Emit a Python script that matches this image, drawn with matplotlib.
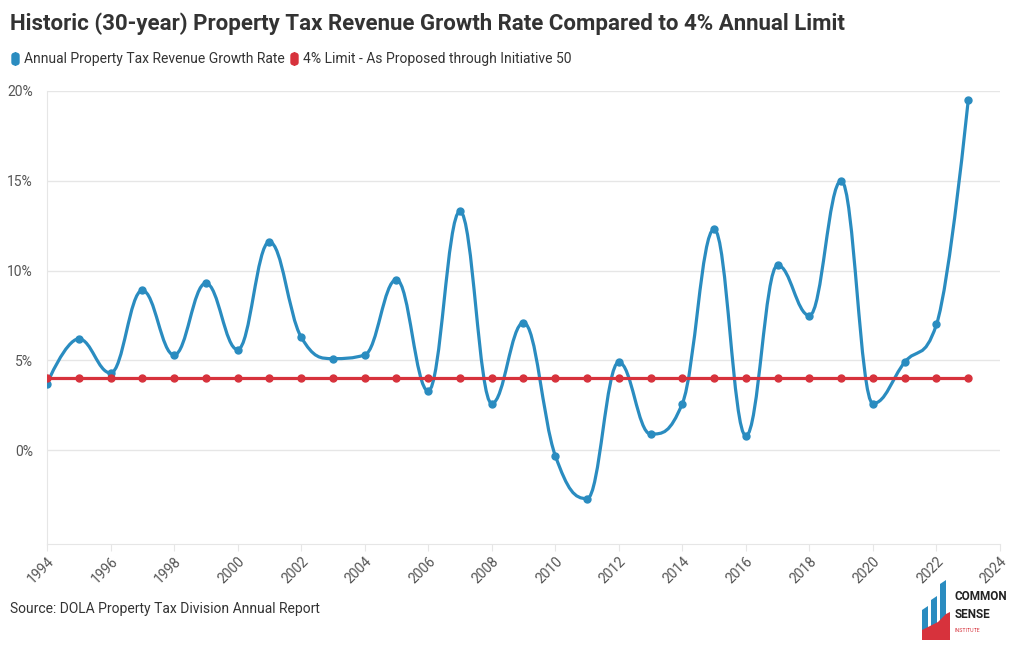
import numpy as np
import matplotlib.pyplot as plt
from matplotlib.path import Path
from matplotlib.patches import PathPatch, Polygon, FancyBboxPatch

plt.rcParams['font.family'] = ['Roboto', 'DejaVu Sans']

years = list(range(1994, 2024))
growth = [3.7, 6.2, 4.3, 8.9, 5.3, 9.3, 5.6, 11.6, 6.3, 5.1,
          5.3, 9.5, 3.3, 13.3, 2.6, 7.1, -0.3, -2.7, 4.9, 0.9,
          2.6, 12.3, 0.8, 10.3, 7.5, 15.0, 2.6, 4.9, 7.0, 19.5]
limit = [4.0] * len(years)
xticks = list(range(1994, 2025, 2))
yticks = [0, 5, 10, 15, 20]

blue = '#2a8cc0'
red = '#d7323c'
grid_c = '#e6e6e6'
text_c = '#333333'
tick_c = '#555555'


def spline_path(xs, ys, smoothing=1.5):
    # cubic bezier through the points, same construction as a highcharts spline
    n = len(xs)
    verts = [(xs[0], ys[0])]
    codes = [Path.MOVETO]
    rc = [(xs[0], ys[0])]
    for i in range(1, n):
        px, py = xs[i], ys[i]
        if i < n - 1:
            lx, ly = xs[i - 1], ys[i - 1]
            nx, ny = xs[i + 1], ys[i + 1]
            d = smoothing + 1
            lcx = (smoothing * px + lx) / d
            lcy = (smoothing * py + ly) / d
            rcx = (smoothing * px + nx) / d
            rcy = (smoothing * py + ny) / d
            if rcx != lcx:
                corr = (rcy - lcy) * (rcx - px) / (rcx - lcx) + py - rcy
                lcy += corr
                rcy += corr
            if lcy > ly and lcy > py:
                lcy = max(ly, py)
                rcy = 2 * py - lcy
            elif lcy < ly and lcy < py:
                lcy = min(ly, py)
                rcy = 2 * py - lcy
            if rcy > ny and rcy > py:
                rcy = max(ny, py)
                lcy = 2 * py - rcy
            elif rcy < ny and rcy < py:
                rcy = min(ny, py)
                lcy = 2 * py - rcy
        else:
            lcx, lcy, rcx, rcy = px, py, px, py
        rc.append((rcx, rcy))
        verts += [rc[i - 1], (lcx, lcy), (px, py)]
        codes += [Path.CURVE4] * 3
    return Path(verts, codes)


fig = plt.figure(figsize=(10.2, 6.5), dpi=100)
ax = fig.add_axes([47 / 1020, 1 - 543.6 / 650, 953 / 1020, (543.6 - 91) / 650])

ax.add_patch(PathPatch(spline_path(years, growth), fill=False, edgecolor=blue,
                       lw=2.3, zorder=3, capstyle='round', joinstyle='round'))
ax.plot(years, growth, 'o', color=blue, ms=5, zorder=4)
ax.plot(years, limit, '-o', color=red, lw=2.3, ms=5, zorder=5)

ax.set_xlim(1994, 2024)
ax.set_ylim(-5.2, 20)
ax.set_yticks(yticks)
ax.set_yticklabels([f'{v}%' for v in yticks])
ax.set_xticks(xticks)
ax.set_xticklabels([str(y) for y in xticks], rotation=45, ha='right',
                   rotation_mode='anchor')
ax.grid(axis='y', color=grid_c, lw=1)
ax.set_axisbelow(True)
for s in ['top', 'right']:
    ax.spines[s].set_visible(False)
ax.spines['left'].set_color(grid_c)
ax.spines['bottom'].set_color(grid_c)
ax.tick_params(axis='y', length=0, labelsize=10, labelcolor=tick_c, pad=10)
ax.tick_params(axis='x', length=5, color=grid_c, labelsize=10,
               labelcolor=tick_c, pad=3)

fig.text(10 / 1020, 1 - 24 / 650, 'Historic (30-year) Property Tax Revenue Growth Rate Compared to 4% Annual Limit',
         fontsize=16, fontweight='bold', color=text_c, va='center')

# legend
fig.patches.append(FancyBboxPatch((12 / 1020, 1 - 65 / 650), 7 / 1020, 12 / 650,
                                  boxstyle='round,pad=0,rounding_size=0.004',
                                  transform=fig.transFigure, color=blue))
fig.text(24 / 1020, 1 - 59 / 650, 'Annual Property Tax Revenue Growth Rate',
         fontsize=10, color=text_c, va='center')
fig.patches.append(FancyBboxPatch((291 / 1020, 1 - 65 / 650), 7 / 1020, 12 / 650,
                                  boxstyle='round,pad=0,rounding_size=0.004',
                                  transform=fig.transFigure, color=red))
fig.text(303 / 1020, 1 - 59 / 650, '4% Limit - As Proposed through Initiative 50',
         fontsize=10, color=text_c, va='center')

fig.text(10 / 1020, 1 - 609 / 650, 'Source: DOLA Property Tax Division Annual Report',
         fontsize=10, color=text_c, va='center')

# logo
lg = fig.add_axes([920 / 1020, 1 - 640 / 650, 95 / 1020, 62 / 650])
lg.set_xlim(0, 95)
lg.set_ylim(0, 62)
lg.axis('off')
for poly, c in [([(2, 0), (2, 30), (8, 34), (8, 0)], blue),
                ([(11, 0), (11, 40), (17, 44), (17, 0)], blue),
                ([(20, 0), (20, 56), (26, 60), (26, 0)], blue),
                ([(2, 0), (2, 10), (10, 14), (18, 18), (26, 26), (30, 28), (30, 0)], red)]:
    lg.add_patch(Polygon(poly, closed=True, color=c, lw=0))
lg.text(35, 43, 'COMMON', fontsize=8.5, fontweight='bold', color='#222222',
        va='center')
lg.text(35, 25, 'SENSE', fontsize=8.5, fontweight='bold', color='#222222', va='center')
lg.text(35, 10, 'INSTITUTE', fontsize=3.8, color=red, va='center')

fig.savefig('out.png', dpi=100)
